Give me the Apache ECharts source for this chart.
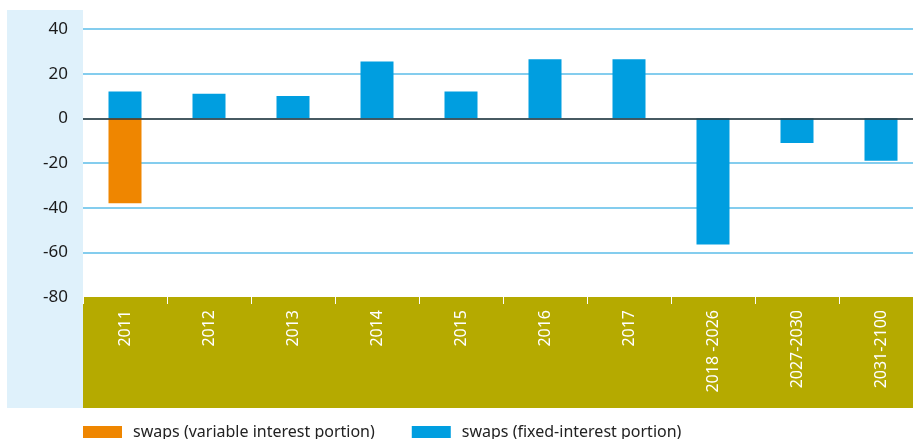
<!DOCTYPE html>
<html>
<head>
<meta charset="utf-8">
<script src="https://cdn.jsdelivr.net/npm/echarts@6/dist/echarts.min.js"></script>
<style>html,body{margin:0;padding:0;background:#fff}#c{width:913px;height:439px}</style>
</head>
<body>
<div id="c"></div>
<script>
const categories = ['2011','2012','2013','2014','2015','2016','2017','2018 -2026','2027-2030','2031-2100'];
const fixedValues = [12, 11, 10, 25.5, 12, 26.5, 26.5, -56.5, -11, -19];
const variableValues = [-38, null, null, null, null, null, null, null, null, null];
const yTicks = [40, 20, 0, -20, -40, -60, -80];
const seriesNames = ['swaps (variable interest portion)', 'swaps (fixed-interest portion)'];

const chart = echarts.init(document.getElementById('c'), null, {renderer: 'canvas'});
const font = '"Noto Sans", "Open Sans", sans-serif';
const gridBlue = '#5bbde8';
chart.setOption({
  animation: false,
  backgroundColor: '#ffffff',
  graphic: [
    {type: 'rect', z: -10, silent: true, shape: {x: 7, y: 10, width: 76, height: 398}, style: {fill: '#dff1fb'}},
    {type: 'rect', z: -10, silent: true, shape: {x: 83, y: 297, width: 840, height: 111}, style: {fill: '#b5aa00'}}
  ],
  grid: {left: 83, width: 840, top: 29, height: 268, containLabel: false, outerBoundsMode: 'none'},
  legend: {
    left: 83, top: 424, padding: 0, itemWidth: 39, itemHeight: 12, itemGap: 37,
    icon: 'rect',
    textStyle: {fontFamily: font, fontSize: 16, color: '#222', padding: [0, 0, 0, 6]},
    data: seriesNames
  },
  xAxis: {
    type: 'category',
    data: categories,
    axisLine: {show: false, onZero: false},
    axisTick: {show: true, length: 7, lineStyle: {color: '#ffffff', width: 1}},
    axisLabel: {rotate: 90, margin: 13, color: '#ffffff', fontFamily: font, fontSize: 16, interval: 0},
    splitLine: {show: false}
  },
  yAxis: {
    type: 'value',
    min: yTicks[yTicks.length - 1], max: yTicks[0], interval: 20,
    axisLine: {show: false},
    axisTick: {show: false},
    axisLabel: {margin: 15, color: '#1a1a1a', fontFamily: font, fontSize: 17},
    splitLine: {lineStyle: {color: ['rgba(0,0,0,0)', gridBlue, gridBlue, gridBlue, gridBlue, gridBlue, gridBlue], width: 1.5}}
  },
  series: [
    {
      name: seriesNames[0], type: 'bar', stack: 's', barWidth: 33,
      itemStyle: {color: '#ef8600'},
      data: variableValues
    },
    {
      name: seriesNames[1], type: 'bar', stack: 's', barWidth: 33,
      itemStyle: {color: '#009ee0'},
      data: fixedValues,
      markLine: {
        silent: true, symbol: 'none', label: {show: false},
        lineStyle: {color: '#333', width: 1.5, type: 'solid'},
        data: [{yAxis: 0}]
      }
    }
  ]
});
</script>
</body>
</html>
